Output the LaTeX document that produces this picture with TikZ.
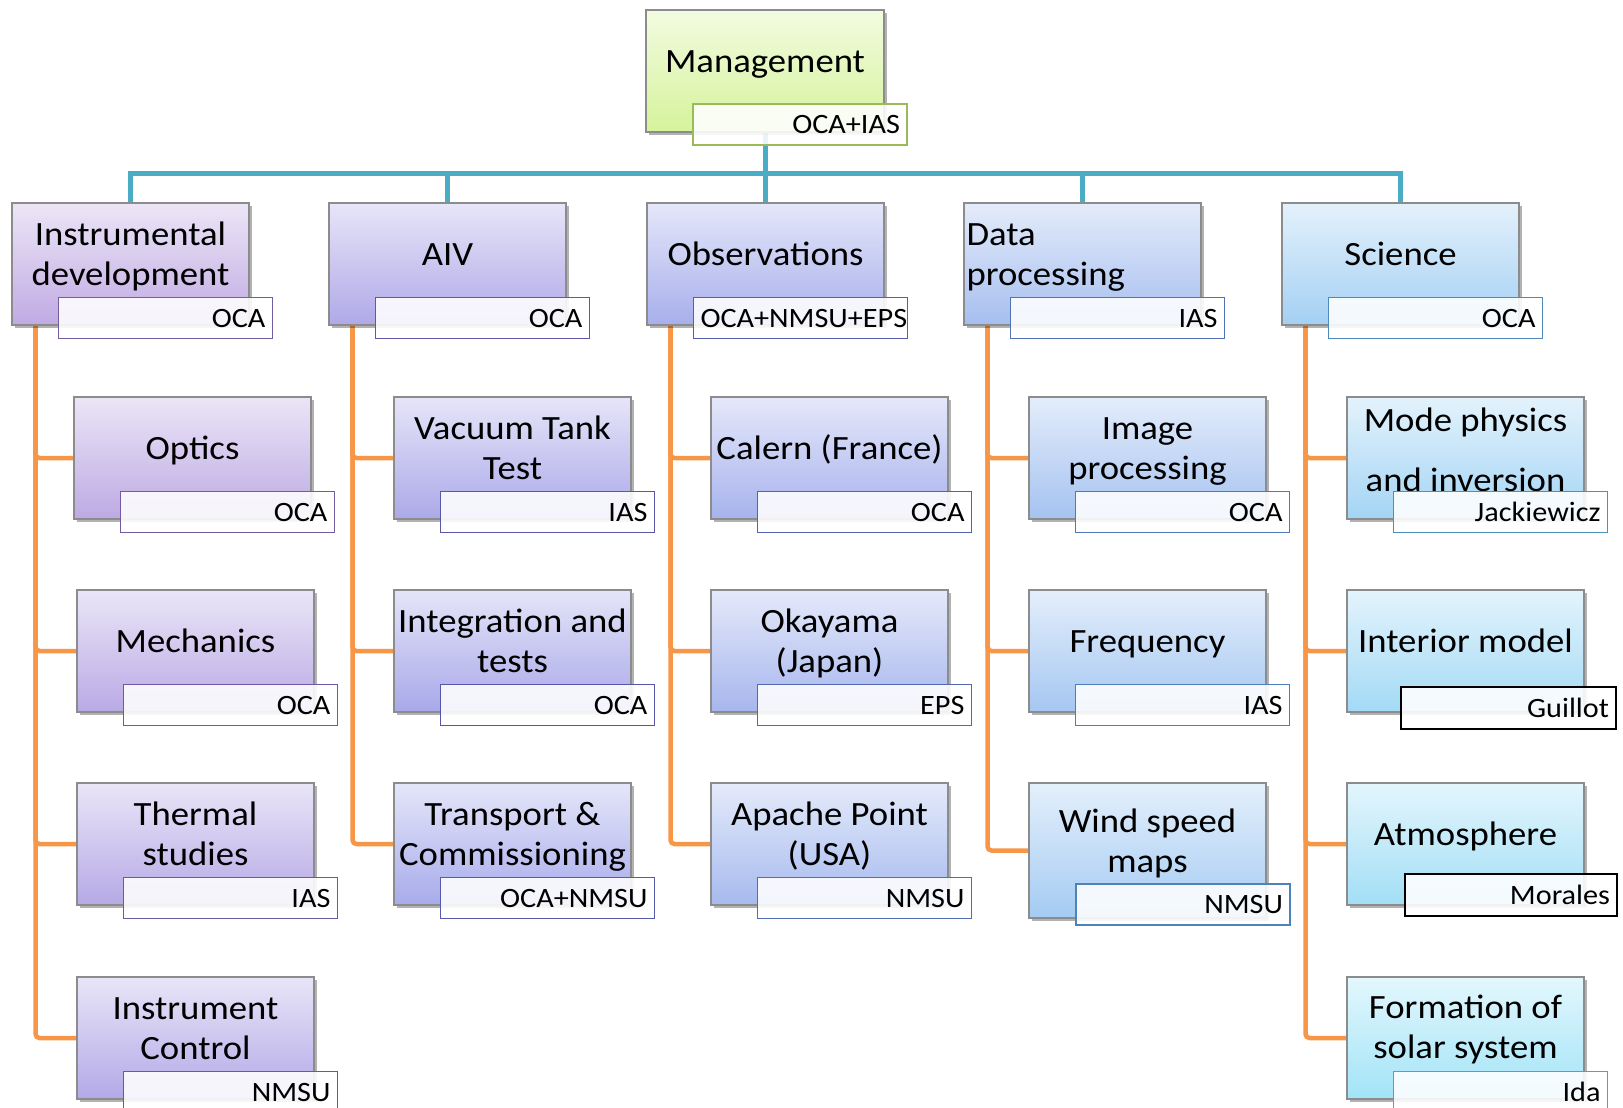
\documentclass[tikz,border=0pt]{standalone}
\usepackage{fontspec}
\setmainfont[FakeStretch=1.08]{Carlito}
\usetikzlibrary{calc,shadows,backgrounds}

\newcommand\defcol[2]{%
 \pgfmathsetmacro\hh{263-3.3*#2}%
 \pgfmathsetmacro\ss{0.25+0.0045*#2}%
 \pgfmathsetmacro\bb{0.89+0.0038*#2}%
 \definecolor{tmpcol}{Hsb}{\hh,\ss,\bb}%
 \colorlet{#1}[rgb]{tmpcol}%
 \pgfmathsetmacro\ss{0.42+0.01*#2}%
 \pgfmathsetmacro\bb{0.62+0.0067*#2}%
 \definecolor{tmpcol}{Hsb}{\hh,\ss,\bb}%
 \colorlet{#1-d}[rgb]{tmpcol}}
\defcol{ca}{0}\defcol{cb}{1}\defcol{cc}{2}\defcol{cd}{3}\defcol{ce}{4}
\defcol{cf}{5}\defcol{cg}{6}\defcol{ch}{7}\defcol{ci}{8}
\defcol{cj}{9}\defcol{ck}{10}\defcol{cl}{11}\defcol{cm}{12}
\defcol{cn}{13}\defcol{co}{14}\defcol{cp}{15}\defcol{cq}{16}
\defcol{cr}{17}\defcol{cs}{18}\defcol{ct}{19}\defcol{cu}{20}\defcol{cv}{21}
\definecolor{mgc}{HTML}{D5F39B}
\definecolor{mgc-d}{HTML}{9BBB59}
\definecolor{busblue}{HTML}{4BACC6}
\definecolor{legorange}{HTML}{F79646}

\newcommand\mstr{\rule[-8pt]{0pt}{38pt}}
\newcommand\lstr{\rule[-6pt]{0pt}{30pt}}

\tikzset{
 box/.style={draw=black!45, line width=1.2pt, minimum width=237pt, minimum height=122pt,
   anchor=north west, inner sep=0pt, outer sep=0pt,
   top color=#1!30!white, bottom color=#1,
   drop shadow={shadow xshift=3pt, shadow yshift=-3pt, opacity=0.3, fill=black}},
 mtxt/.style={font=\fontsize{34}{40}\selectfont, align=center, inner sep=0pt, outer sep=0pt, anchor=center},
 lbl/.style={draw=#1, line width=1.9pt, fill=white, fill opacity=0.88, text opacity=1,
   minimum height=41pt, anchor=north west, text width=200pt, align=right,
   inner xsep=7pt, inner ysep=0pt, outer sep=0pt, font=\fontsize{28}{34}\selectfont},
 bline/.style={draw=busblue, line width=5pt},
 oline/.style={draw=legorange, line width=4.5pt, rounded corners=4pt}
}

\newcommand\orgbox[7][51]{%
 \node[box=#3] (#2) at (#4,#5) {};
 \node[mtxt] (#2-t) at ($(#2.north)+(0,#1)$) {#6};
 \node[lbl=#3-d] (#2-l) at ($(#2.south west)+(46.5,-27.5)$) {\lstr #7};}

\begin{document}
\begin{tikzpicture}[x=1pt,y=-1pt]
\useasboundingbox (0,0) rectangle (1623,1108);
\clip (0,0) rectangle (1623,1108);

% top
\node[box=mgc, minimum width=238pt] (mg) at (646,10) {};
\node[mtxt] (mg-t) at ($(mg.north)+(0,52)$) {\mstr Management};
\node[lbl=mgc-d] (mg-l) at ($(mg.south west)+(47,-28)$) {\lstr OCA+IAS};

% level 1
\orgbox{inst}{ca}{12}{203}{\mstr Instrumental\\\mstr development}{OCA}
\orgbox{aiv}{cf}{329}{203}{\mstr AIV}{OCA}
\orgbox{obs}{cj}{647}{203}{\mstr Observations}{OCA+NMSU+EPS}
\node[box=cn] (dat) at (964,203) {};
\node[mtxt, align=left, anchor=west] (dat-t) at ($(dat.north west)+(2.5,51)$) {\mstr Data\\\mstr processing};
\node[lbl=cn-d] (dat-l) at ($(dat.south west)+(46.5,-27.5)$) {\lstr IAS};
\orgbox{sci}{cr}{1282}{203}{\mstr Science}{OCA}

% column 1
\orgbox{opt}{cb}{74}{397}{\mstr Optics}{OCA}
\orgbox{mech}{cc}{77}{590}{\mstr Mechanics}{OCA}
\orgbox{therm}{cd}{77}{783}{\mstr Thermal\\\mstr studies}{IAS}
\orgbox{ictl}{ce}{77}{977}{\mstr Instrument\\\mstr Control}{NMSU}

% column 2
\orgbox{vac}{cg}{394}{397}{\mstr Vacuum Tank\\\mstr Test}{IAS}
\orgbox{integ}{ch}{394}{590}{\mstr Integration and\\\mstr tests}{OCA}
\orgbox{trans}{ci}{394}{783}{\mstr Transport \&\\\mstr Commissioning}{OCA+NMSU}

% column 3
\orgbox{cal}{ck}{711}{397}{\mstr Calern (France)}{OCA}
\orgbox{oka}{cl}{711}{590}{\mstr Okayama\\\mstr (Japan)}{EPS}
\orgbox{apa}{cm}{711}{783}{\mstr Apache Point\\\mstr (USA)}{NMSU}

% column 4
\orgbox{img}{co}{1029}{397}{\mstr Image\\\mstr processing}{OCA}
\orgbox{freq}{cp}{1029}{590}{\mstr Frequency}{IAS}
\node[box=cq, minimum height=135pt] (wind) at (1029,783) {};
\node[mtxt] (wind-t) at ($(wind.north)+(0,58)$) {\mstr Wind speed\\\mstr maps};
\node[lbl=cq-d] (wind-l) at ($(wind.south west)+(47,-34)$) {\lstr NMSU};

% column 5
\orgbox[53]{mode}{cs}{1347}{397}{\mstr Mode physics\\[20pt]\mstr and inversion}{Jackiewicz}
\node[box=ct] (inter) at (1347,590) {};
\node[mtxt] (inter-t) at ($(inter.north)+(0,51.5)$) {\mstr Interior model};
\node[lbl=black, line width=2pt, minimum height=42pt, text width=201pt] (inter-l) at ($(inter.south west)+(54,-25)$) {\lstr Guillot};
\node[box=cu] (atm) at (1347,783) {};
\node[mtxt] (atm-t) at ($(atm.north)+(0,51)$) {\mstr Atmosphere};
\node[lbl=black, line width=2pt, minimum height=42pt, text width=198pt] (atm-l) at ($(atm.south west)+(58,-31)$) {\lstr Morales};
\orgbox[50.5]{form}{cv}{1347}{977}{\mstr Formation of\\\mstr solar system}{Ida}

% connectors
\begin{scope}[on background layer]
 \coordinate (bus) at (765,173);
 \draw[bline] (mg.south) -- (bus);
 \foreach \n in {inst,aiv,obs,dat,sci} \draw[bline] (\n.north) |- (bus);
 \foreach \p/\c in {inst/opt,inst/mech,inst/therm,inst/ictl,
                    aiv/vac,aiv/integ,aiv/trans,
                    obs/cal,obs/oka,obs/apa,
                    dat/img,dat/freq,dat/wind,
                    sci/mode,sci/inter,sci/atm,sci/form}
   \draw[oline] ($(\p.south west)+(23.5,0)$) |- (\c.west);
\end{scope}
\end{tikzpicture}
\end{document}
